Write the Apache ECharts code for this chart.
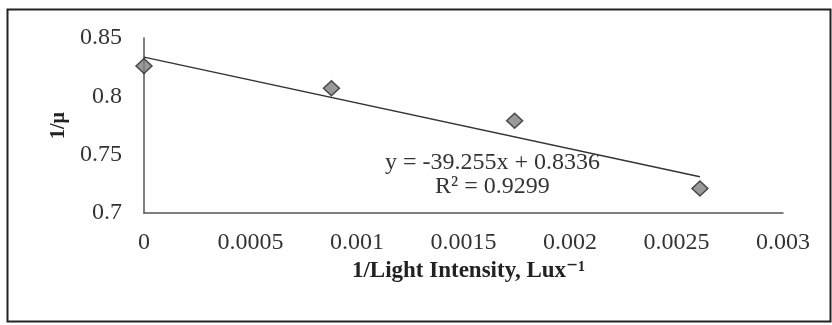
<!DOCTYPE html>
<html><head><meta charset="utf-8">
<script src="https://cdn.jsdelivr.net/npm/echarts@6/dist/echarts.min.js"></script>
<style>html,body{margin:0;padding:0;background:#fff}#c{width:832px;height:325px}</style>
</head><body><div id="c"></div>
<script>
var xValues = [0, 0.00088, 0.00174, 0.00261];
var yValues = [0.826, 0.807, 0.779, 0.721];
var slope = -39.255;
var intercept = 0.8336;
var equationText = 'y = -39.255x + 0.8336';
var r2Text = 'R\u00B2 = 0.9299';
var xTicks = [0, 0.0005, 0.001, 0.0015, 0.002, 0.0025, 0.003];
var yTicks = [0.7, 0.75, 0.8, 0.85];

var points = xValues.map(function(x, i){ return [x, yValues[i]]; });
var xMax = Math.max.apply(null, xValues);
var trend = [[0, intercept], [xMax, slope * xMax + intercept]];
var font = '"Liberation Serif", "DejaVu Serif", serif';

var chart = echarts.init(document.getElementById('c'));
chart.setOption({
  animation: false,
  textStyle: {fontFamily: font},
  grid: {left: 144, right: 49, top: 38, bottom: 112},
  xAxis: {
    type: 'value', min: 0, max: 0.003, interval: 0.0005,
    name: '1/Light Intensity, Lux\u207B\u00B9', nameLocation: 'middle', nameGap: 42,
    nameTextStyle: {fontFamily: font, fontWeight: 'bold', fontSize: 23, color: '#222', padding: [0,0,0,10]},
    axisLine: {show: true, lineStyle: {color: '#555', width: 1.5}},
    axisTick: {show: false}, splitLine: {show: false},
    axisLabel: {fontFamily: font, fontSize: 24, color: '#333', margin: 18,
      formatter: function(v){ return String(parseFloat(v.toFixed(4))); }}
  },
  yAxis: {
    type: 'value', min: 0.7, max: 0.85, interval: 0.05,
    name: '1/\u03BC', nameLocation: 'middle', nameGap: 75,
    nameTextStyle: {fontFamily: font, fontWeight: 'bold', fontSize: 20, color: '#222'},
    axisLine: {show: true, lineStyle: {color: '#555', width: 1.5}},
    axisTick: {show: false}, splitLine: {show: false},
    axisLabel: {fontFamily: font, fontSize: 24, color: '#333', margin: 22,
      formatter: function(v){ return String(parseFloat(v.toFixed(2))); }}
  },
  series: [
    {type: 'line', data: trend, symbol: 'none', lineStyle: {color: '#333', width: 1.5}, z: 2},
    {type: 'scatter', data: points, symbol: 'diamond', symbolSize: [16, 15],
      itemStyle: {color: '#808080', borderColor: '#2a2a2a', borderWidth: 1.5}, z: 3}
  ],
  graphic: [
    {type: 'rect', shape: {x: 7.5, y: 9.5, width: 823, height: 312}, style: {fill: 'none', stroke: '#222', lineWidth: 2}, silent: true},
    {type: 'text', x: 385, y: 163, style: {text: equationText, font: '24px ' + font, fill: '#333', verticalAlign: 'middle'}},
    {type: 'text', x: 435, y: 187, style: {text: r2Text, font: '24px ' + font, fill: '#333', verticalAlign: 'middle'}}
  ]
});
</script></body></html>
